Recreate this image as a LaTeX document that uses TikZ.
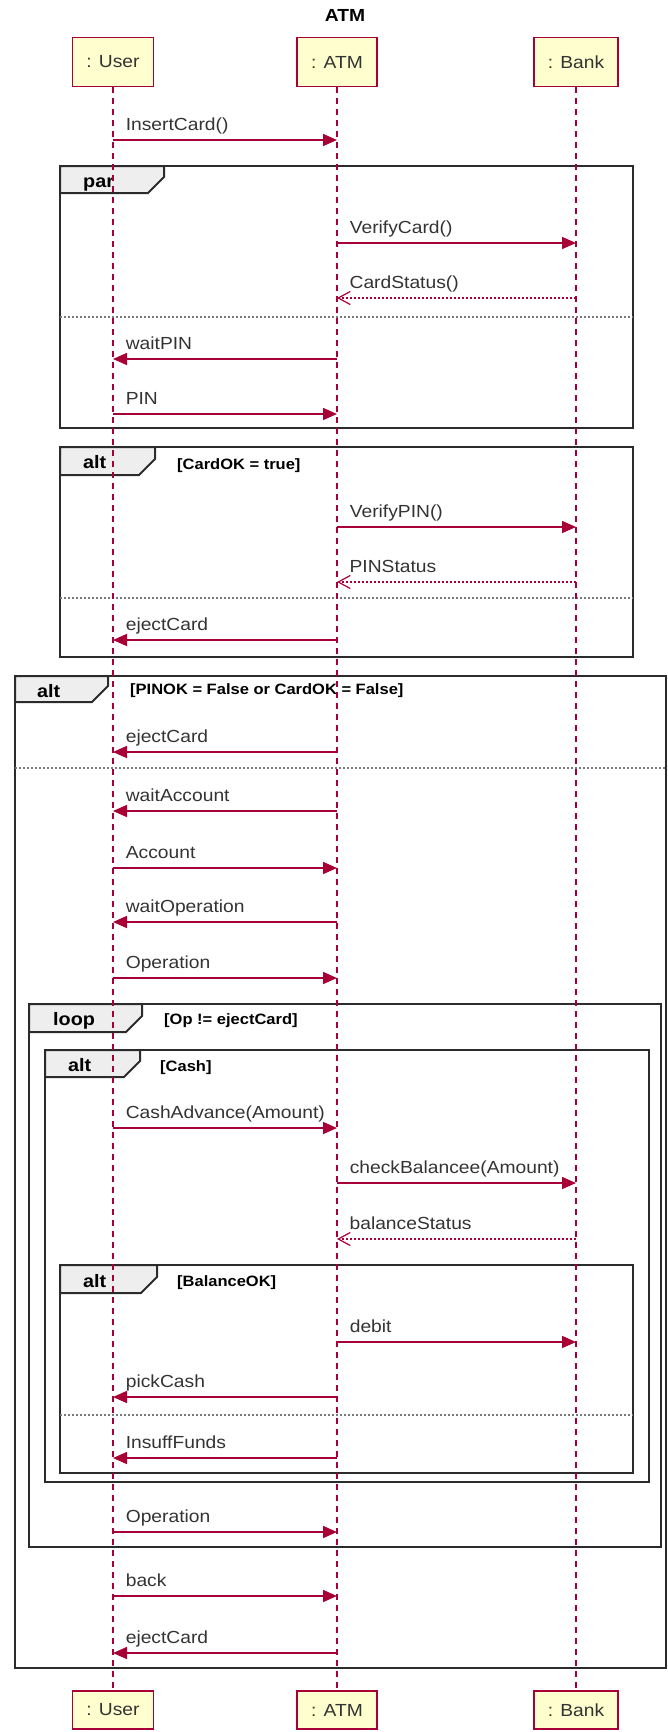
\documentclass[tikz,border=0pt]{standalone}
\usepackage{fontspec}
\setmainfont[FakeStretch=1.1]{Liberation Sans}
\usetikzlibrary{arrows.meta, calc}
\definecolor{umlred}{HTML}{A80036}
\definecolor{umlyellow}{HTML}{FEFECE}
\definecolor{tabgray}{HTML}{EEEEEE}
\definecolor{framegray}{HTML}{2B2B2B}
\definecolor{sepgray}{HTML}{7A7A7A}
\definecolor{textgray}{HTML}{333333}

\newcommand{\rowat}[2]{%
	\coordinate (#1U) at (113,#2);
	\coordinate (#1A) at (337,#2);
	\coordinate (#1B) at (576,#2);}

\begin{document}
\begin{tikzpicture}[x=1pt, y=-1pt]
	\tikzstyle{participant}=[rectangle, draw=umlred, fill=umlyellow, line width=1.5pt,
	inner xsep=14pt, minimum height=49pt, text=textgray, font=\fontsize{17.5}{20}\selectfont]
	\tikzstyle{lifeline}=[umlred, line width=1.3pt, dash pattern=on 6pt off 5pt]
	\tikzstyle{callmsg}=[umlred, line width=1.6pt, -{Triangle[length=14pt, width=12pt]}]
	\tikzstyle{replymsg}=[umlred, line width=1.2pt, dash pattern=on 2pt off 2pt,
	-{Straight Barb[length=12pt, width=13pt]}]
	\tikzstyle{msgtext}=[anchor=base west, inner sep=0pt, xshift=12pt, yshift=10pt,
	text=textgray, font=\fontsize{17.5}{20}\selectfont]
	\tikzstyle{fragbox}=[draw=framegray, line width=2pt]
	\tikzstyle{fragtab}=[draw=framegray, fill=tabgray, line width=2pt]
	\tikzstyle{fragsep}=[sepgray, line width=1.6pt, dash pattern=on 2pt off 2pt]
	\tikzstyle{tabtext}=[anchor=base west, inner sep=0pt, text=black, font=\bfseries\fontsize{18}{20}\selectfont]
	\tikzstyle{guardtext}=[anchor=base west, inner sep=0pt, text=black, font=\bfseries\fontsize{15}{18}\selectfont]
	\tikzstyle{titletext}=[inner sep=0pt, text=black, font=\bfseries\fontsize{17.5}{20}\selectfont]
	
	\clip (0,0) rectangle (667,1732);
	
	\node[titletext] at (345,15) (title) {ATM};
	
	% fragments
	\draw[fragbox] (15,676) rectangle (666,1668);
	\draw[fragtab] (15,676) -- (108,676) -- (108,686) -- (92,702) -- (15,702) -- cycle;
	\node[tabtext] at (37,697) (altT2) {alt};
	\node[guardtext] at (130,694) (altG2) {[PINOK = False or CardOK = False]};
	\draw[fragsep] (15,768) -- (666,768);
	
	\draw[fragbox] (60,166) rectangle (633,428);
	\draw[fragtab] (60,166) -- (164,166) -- (164,177) -- (148,193) -- (60,193) -- cycle;
	\node[tabtext] at (83,187) (parT) {par};
	\draw[fragsep] (60,317) -- (633,317);
	
	\draw[fragbox] (60,447) rectangle (633,657);
	\draw[fragtab] (60,447) -- (155,447) -- (155,459) -- (139,475) -- (60,475) -- cycle;
	\node[tabtext] at (83,468) (altT1) {alt};
	\node[guardtext] at (177,469) (altG1) {[CardOK = true]};
	\draw[fragsep] (60,598) -- (633,598);
	
	\draw[fragbox] (29,1004) rectangle (661,1547);
	\draw[fragtab] (29,1004) -- (142,1004) -- (142,1016) -- (126,1032) -- (29,1032) -- cycle;
	\node[tabtext] at (53,1025) (loopT) {loop};
	\node[guardtext] at (164,1024) (loopG) {[Op != ejectCard]};
	
	\draw[fragbox] (45,1050) rectangle (649,1482);
	\draw[fragtab] (45,1050) -- (140,1050) -- (140,1061) -- (124,1077) -- (45,1077) -- cycle;
	\node[tabtext] at (68,1071) (altT3) {alt};
	\node[guardtext] at (160,1071) (altG3) {[Cash]};
	
	\draw[fragbox] (60,1265) rectangle (633,1473);
	\draw[fragtab] (60,1265) -- (157,1265) -- (157,1277) -- (141,1293) -- (60,1293) -- cycle;
	\node[tabtext] at (83,1287) (altT4) {alt};
	\node[guardtext] at (177,1286) (altG4) {[BalanceOK]};
	\draw[fragsep] (60,1415) -- (633,1415);
	
	% participants
	\node[participant] at (113,62) (user) {: User};
	\node[participant] at (337,62) (atm) {: ATM};
	\node[participant] at (576,62) (bank) {: Bank};
	\node[participant, minimum height=38pt] at (113,1710) (userB) {: User};
	\node[participant, minimum height=38pt] at (337,1710) (atmB) {: ATM};
	\node[participant, minimum height=38pt] at (576,1710) (bankB) {: Bank};
	
	\draw[lifeline] (user) -- (userB);
	\draw[lifeline] (atm) -- (atmB);
	\draw[lifeline] (bank) -- (bankB);
	
	% messages
	\rowat{m1}{140}
	\draw[callmsg] (m1U) -- (m1A) node[msgtext, pos=0] (l1) {InsertCard()};
	\rowat{m2}{243}
	\draw[callmsg] (m2A) -- (m2B) node[msgtext, pos=0] (l2) {VerifyCard()};
	\rowat{m3}{298}
	\draw[replymsg] (m3B) -- (m3A) node[msgtext, pos=1] (l3) {CardStatus()};
	\rowat{m4}{359}
	\draw[callmsg] (m4A) -- (m4U) node[msgtext, pos=1] (l4) {waitPIN};
	\rowat{m5}{414}
	\draw[callmsg] (m5U) -- (m5A) node[msgtext, pos=0] (l5) {PIN};
	\rowat{m6}{527}
	\draw[callmsg] (m6A) -- (m6B) node[msgtext, pos=0] (l6) {VerifyPIN()};
	\rowat{m7}{582}
	\draw[replymsg] (m7B) -- (m7A) node[msgtext, pos=1] (l7) {PINStatus};
	\rowat{m8}{640}
	\draw[callmsg] (m8A) -- (m8U) node[msgtext, pos=1] (l8) {ejectCard};
	\rowat{m9}{752}
	\draw[callmsg] (m9A) -- (m9U) node[msgtext, pos=1] (l9) {ejectCard};
	\rowat{m10}{811}
	\draw[callmsg] (m10A) -- (m10U) node[msgtext, pos=1] (l10) {waitAccount};
	\rowat{m11}{868}
	\draw[callmsg] (m11U) -- (m11A) node[msgtext, pos=0] (l11) {Account};
	\rowat{m12}{922}
	\draw[callmsg] (m12A) -- (m12U) node[msgtext, pos=1] (l12) {waitOperation};
	\rowat{m13}{978}
	\draw[callmsg] (m13U) -- (m13A) node[msgtext, pos=0] (l13) {Operation};
	\rowat{m14}{1128}
	\draw[callmsg] (m14U) -- (m14A) node[msgtext, pos=0] (l14) {CashAdvance(Amount)};
	\rowat{m15}{1183}
	\draw[callmsg] (m15A) -- (m15B) node[msgtext, pos=0] (l15) {checkBalancee(Amount)};
	\rowat{m16}{1239}
	\draw[replymsg] (m16B) -- (m16A) node[msgtext, pos=1] (l16) {balanceStatus};
	\rowat{m17}{1342}
	\draw[callmsg] (m17A) -- (m17B) node[msgtext, pos=0] (l17) {debit};
	\rowat{m18}{1397}
	\draw[callmsg] (m18A) -- (m18U) node[msgtext, pos=1] (l18) {pickCash};
	\rowat{m19}{1458}
	\draw[callmsg] (m19A) -- (m19U) node[msgtext, pos=1] (l19) {InsuffFunds};
	\rowat{m20}{1532}
	\draw[callmsg] (m20U) -- (m20A) node[msgtext, pos=0] (l20) {Operation};
	\rowat{m21}{1596}
	\draw[callmsg] (m21U) -- (m21A) node[msgtext, pos=0] (l21) {back};
	\rowat{m22}{1653}
	\draw[callmsg] (m22A) -- (m22U) node[msgtext, pos=1] (l22) {ejectCard};
	
\end{tikzpicture}
\end{document}
